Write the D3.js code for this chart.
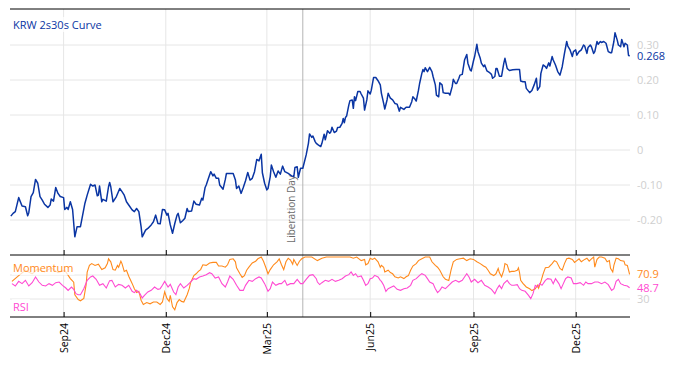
<!DOCTYPE html>
<html><head><meta charset="utf-8">
<script src="https://cdn.jsdelivr.net/npm/d3@7"></script>
<style>body{margin:0;background:#fff;} svg{display:block;font-family:"Open Sans",sans-serif;}</style>
</head><body><svg id="c" width="674" height="366"></svg>
<script>
// ---- data (days counted from startDate) ----
const startDate = "2024-07-15";
const endDate = "2026-01-18";
const curveDays = [1,3,5,8,11,14,16,17,19,21,23,25,27,29,31,34,36,37,39,41,43,45,48,49,51,52,54,56,58,60,63,67,69,72,74,76,78,79,80,82,83,86,88,89,90,92,94,95,98,100,102,104,106,109,111,113,115,117,118,121,123,126,128,130,132,134,
136,138,140,141,143,145,147,149,150,152,154,156,158,159,162,164,166,169,171,172,174,175,177,179,181,182,184,186,187,190,192,193,196,199,201,202,204,206,208,210,212,214,216,218,220,222,224,225,227,229,230,232,233,235,237,239,241,243,245,248,251,253,254,256,257,259,261,
264,266,267,269,270,272,273,275,277,278,280,281,283,285,286,287,289,291,292,294,296,297,298,299,300,302,303,305,306,307,308,310,312,313,315,316,318,319,321,322,324,326,328,330,331,333,334,336,337,339,341,343,345,347,348,351,353,356,358,359,361,362,364,365,367,368,369,370,372,374,376,377,379,380,382,383,385,386,388,391,392,394,395,397,398,400,401,403,
405,407,408,410,411,413,414,416,417,419,420,422,423,425,427,429,430,432,433,434,436,438,440,441,443,445,448,451,454,455,457,459,460,463,465,467,469,470,472,473,475,477,478,480,481,483,484,486,488,490,492,494,496,497,499,501,502,504,505,507,509,511,512,514,515,517,518,520,521,523,524,526,527,529,531,533,535,536,538,539,541,542,544,545,547,548,550,551,552];
const curveValues = [-0.189,-0.181,-0.176,-0.136,-0.16,-0.162,-0.188,-0.179,-0.133,-0.122,-0.084,-0.095,-0.133,-0.143,-0.155,-0.164,-0.157,-0.14,-0.146,-0.107,-0.124,-0.133,-0.136,-0.17,-0.164,-0.17,-0.148,-0.17,-0.248,-0.219,-0.219,-0.152,-0.129,-0.098,-0.103,-0.1,-0.131,-0.129,-0.103,-0.148,-0.141,-0.146,-0.105,-0.093,-0.105,-0.148,-0.138,-0.133,-0.11,-0.119,-0.129,-0.148,-0.157,-0.171,-0.176,-0.167,-0.176,-0.219,-0.248,-0.229,-0.224,-0.214,-0.205,-0.186,-0.21,-0.211,
-0.17,-0.171,-0.186,-0.181,-0.214,-0.238,-0.21,-0.186,-0.181,-0.208,-0.202,-0.195,-0.167,-0.176,-0.174,-0.146,-0.155,-0.157,-0.138,-0.143,-0.107,-0.1,-0.081,-0.062,-0.074,-0.069,-0.081,-0.081,-0.1,-0.112,-0.084,-0.067,-0.067,-0.067,-0.086,-0.11,-0.103,-0.124,-0.107,-0.088,-0.064,-0.086,-0.081,-0.062,-0.027,-0.031,-0.012,-0.065,-0.095,-0.114,-0.11,-0.076,-0.043,-0.062,-0.078,-0.06,-0.069,-0.046,-0.062,-0.067,-0.074,-0.076,-0.05,-0.048,-0.078,-0.052,-0.052,
-0.014,0.019,0.046,0.036,0.04,0.024,0.019,0.014,0.01,0.019,0.045,0.029,0.055,0.048,0.052,0.065,0.05,0.054,0.064,0.065,0.076,0.09,0.078,0.093,0.097,0.129,0.141,0.143,0.119,0.152,0.141,0.167,0.167,0.16,0.148,0.114,0.143,0.169,0.16,0.171,0.207,0.207,0.198,0.186,0.162,0.133,0.117,0.143,0.162,0.148,0.143,0.133,0.131,0.111,0.122,0.116,0.122,0.122,0.138,0.152,0.145,0.14,0.171,0.19,0.219,0.23,0.224,0.235,0.224,0.236,0.224,0.21,0.186,0.157,0.152,0.192,0.186,0.164,0.162,0.162,0.157,0.181,0.202,0.19,0.19,0.205,0.214,0.216,
0.257,0.273,0.248,0.229,0.226,0.255,0.267,0.302,0.281,0.262,0.248,0.238,0.243,0.226,0.222,0.216,0.205,0.21,0.233,0.233,0.211,0.211,0.248,0.262,0.233,0.227,0.229,0.23,0.23,0.197,0.195,0.195,0.176,0.164,0.17,0.186,0.205,0.171,0.181,0.219,0.243,0.238,0.233,0.249,0.24,0.267,0.257,0.243,0.224,0.214,0.238,0.276,0.31,0.297,0.286,0.267,0.281,0.286,0.271,0.281,0.286,0.3,0.297,0.276,0.293,0.3,0.295,0.276,0.281,0.31,0.302,0.31,0.307,0.31,0.305,0.281,0.278,0.278,0.31,0.335,0.314,0.3,0.295,0.316,0.295,0.305,0.3,0.271,0.268];

const momentumDays = [2,8,14,20,25,31,37,43,49,54,57,58,61,63,66,68,69,71,73,76,79,82,85,87,88,90,92,94,96,97,99,100,102,104,106,109,111,113,115,117,119,122,125,128,131,134,136,138,140,142,143,145,147,149,151,153,155,158,160,161,164,166,168,170,172,175,178,181,184,186,189,192,194,196,199,201,202,205,207,209,211,213,216,219,221,224,226,228,230,232,235,238,240,242,244,246,248,250,252,253,256,258,260,263,267,269,274,278,282,287,291,296,300,303,306,309,313,316,317,319,321,323,325,328,330,331,333,334,337,339,341,343,346,348,351,353,355,357,359,362,364,367,370,374,376,379,381,383,386,388,391,393,395,398,401,404,407,410,413,416,419,422,424,426,428,431,433,435,436,438,440,441,443,445,447,449,452,453,454,455,457,460,463,465,468,470,471,473,475,477,480,483,485,487,490,492,494,496,498,501,503,505,507,509,512,514,516,518,520,521,523,525,527,530,532,534,535,537,538,540,542,544,547,548,550,552];
const momentumValues = [59.4,69,78,72,80,75,82,74,78,64,58,37,29,27,31,53,75,86,89,86,88,79,82,89,97,92,79,78,86,83,93,89,76,78,68,56,47,41,43,28,21,24,22,25,25,21,25,42,31,26,36,17,12,24,29,26,25,37,48,57,69,72,76,79,87,86,90,91,91,85,85,83,87,96,97,92,82,72,66,69,78,83,90,93,97,100,93,83,72,79,87,92,97,87,79,92,98,95,88,96,86,93,97,100,100,100,94,98,100,100,100,100,100,100,98,100,94,96,87,89,98,96,98,92,83,86,83,75,78,74,72,67,65,67,64,67,69,78,85,89,94,97,100,100,92,86,83,78,67,63,61,78,92,96,97,98,94,97,96,92,89,85,83,78,72,69,72,81,74,67,78,89,87,75,76,76,78,82,74,61,56,50,47,44,47,53,48,59,72,82,83,89,94,92,81,78,89,97,98,96,91,94,97,92,96,98,93,97,100,83,96,100,100,98,92,94,81,75,86,98,97,94,93,87,86,70.9];

const rsiDays = [2,5,8,11,14,17,20,23,26,29,32,35,38,41,44,47,50,52,55,57,59,61,63,66,69,72,74,77,80,83,86,89,91,94,97,100,103,106,109,111,113,116,118,120,123,126,129,132,134,136,138,141,143,146,148,150,152,155,158,161,164,166,169,172,175,178,180,183,186,189,192,194,196,199,202,205,208,210,213,216,219,222,224,227,230,232,234,237,240,242,245,247,250,253,256,259,261,264,267,270,273,274,276,278,281,284,287,290,293,296,299,302,304,306,308,310,313,315,317,319,321,323,325,328,330,331,333,335,337,340,342,345,348,351,354,357,359,362,365,367,370,372,374,377,379,381,383,385,388,391,394,397,400,403,405,407,409,411,414,417,420,423,426,429,432,434,436,438,440,443,445,447,449,452,454,456,459,462,464,466,468,470,472,474,477,479,482,484,486,489,491,493,495,497,500,502,505,508,511,513,515,518,521,524,527,530,533,536,538,540,542,544,547,550,552];
const rsiValues = [55.6,51.7,59.4,55.6,61.1,51.7,57.2,66.7,58.3,52.8,51.7,55.6,52.8,57.2,58.3,52.8,48.3,44.4,50,46.1,38.9,37.2,37.2,47.2,61.1,66.7,68.3,62.8,52.8,55.6,48.3,60.6,61.1,50,54.4,52.8,48.3,52.8,42.8,40.6,44.4,38.9,31.7,36.1,41.7,44.4,50,46.1,47.2,52.8,59.4,50,54.4,41.7,37.2,50,55.6,48.3,52.8,58.3,63.9,62.8,66.7,68.3,70.6,73.9,72.2,65,66.7,55.6,50,58.3,68.3,62.8,52.8,44.4,44.4,52.8,61.1,59.4,63.9,66.7,65,55.6,42.8,47.2,58.3,52.8,55.6,55.6,61.1,52.8,55.6,55.6,62.8,55.6,55.6,62.8,69.4,70.6,63.9,58.3,54,57.2,61.1,59.4,62.8,59.4,61.1,63.9,68.3,70.6,75,69.4,72.2,66.7,68.3,61.1,52.8,55.6,63.9,65,69.4,66.7,61.1,59.4,52.8,42.8,47.2,50,51.7,46.1,44.4,47.2,48.3,52.8,61.1,63.9,69.4,72.2,69.4,63.9,58.3,55.6,47.2,40.6,44.4,50,47.2,52.8,58.3,61.1,58.3,61.1,66.7,72.2,66.7,58.3,62.8,57.2,61.1,52.8,50,46.1,38.9,47.2,52.8,47.2,55.6,61.1,55.6,52.8,52.8,53.9,47.2,44.4,42.8,36.1,30.6,38.9,52.8,50,55.6,52.8,61.1,63.9,62.8,55.6,63.9,55.6,47.2,55.6,63.9,66.7,65,55.6,55.6,57.2,52.8,58.3,55.6,55.6,58.3,58.3,55.6,58.3,53.9,44.4,47.2,59.4,62.8,55.6,52.8,51.7,48.7];

const tickLabels = ["Sep24","Dec24","Mar25","Jun25","Sep25","Dec25"];
const tickDates = ["2024-09-01","2024-12-01","2025-03-01","2025-06-01","2025-09-01","2025-12-01"];
const yTicks = [-0.2,-0.1,0,0.1,0.2,0.3];
const yTickLabels = ["-0.20","-0.10","0","0.10","0.20","0.30"];
const oscGrid = [30,70];
const oscTickLabels = ["30"];
const eventDate = "2025-04-02";
const eventLabel = "Liberation Day";
const titleText = "KRW 2s30s Curve";

// ---- drawing ----
const parse = d3.timeParse("%Y-%m-%d");
const t0 = parse(startDate);
const toDate = d => d3.timeDay.offset(t0, d);
const curve = curveDays.map((d,i)=>({date:toDate(d), v:curveValues[i]}));
const mom = momentumDays.map((d,i)=>({date:toDate(d), v:momentumValues[i]}));
const rsi = rsiDays.map((d,i)=>({date:toDate(d), v:rsiValues[i]}));

const L = 10, R = 630;
const topY0 = 9, topY1 = 255, botY0 = 255, botY1 = 317;
const x = d3.scaleTime().domain([t0, parse(endDate)]).range([9.7, 629.6]);
const yTop = d3.scaleLinear().domain([-0.3, 0.4]).range([255, 10]);
const yBot = d3.scaleLinear().domain([0, 100]).range([317, 257]);

const svg = d3.select("#c");
const blue = "#0a35a3", orange = "#ff8a1c", pink = "#ff4ad2", grid = "#e6e6e6", lab = "#cfcfcf";

// vertical gridlines
svg.append("g").selectAll("line").data(tickDates).join("line")
  .attr("x1", d=>x(parse(d))).attr("x2", d=>x(parse(d)))
  .attr("y1", topY0).attr("y2", botY1).attr("stroke", grid).attr("stroke-width",1);
// horizontal gridlines top
svg.append("g").selectAll("line").data(yTicks).join("line")
  .attr("x1", L).attr("x2", R).attr("y1", d=>yTop(d)).attr("y2", d=>yTop(d))
  .attr("stroke", grid).attr("stroke-width",1);
// horizontal gridlines bottom
svg.append("g").selectAll("line").data(oscGrid).join("line")
  .attr("x1", L).attr("x2", R).attr("y1", d=>yBot(d)).attr("y2", d=>yBot(d))
  .attr("stroke", grid).attr("stroke-width",1);

// event line
const ex = x(parse(eventDate));
svg.append("line").attr("x1",ex).attr("x2",ex).attr("y1",topY0).attr("y2",botY1)
  .attr("stroke","#b4b4b4").attr("stroke-width",1);
svg.append("text").attr("transform",`translate(${ex-8},243) rotate(-90)`)
  .attr("text-anchor","start").attr("font-size",10).attr("fill","#6b6b6b").text(eventLabel);

// y labels top
svg.append("g").selectAll("text").data(yTicks).join("text")
  .attr("x", 637).attr("y", d=>yTop(d)).attr("dy","0.35em")
  .attr("font-size",11).attr("fill",lab).text((d,i)=>yTickLabels[i]);
svg.append("g").selectAll("text").data(oscTickLabels).join("text")
  .attr("x", 637).attr("y", d=>yBot(+d)).attr("dy","0.35em")
  .attr("font-size",11).attr("fill",lab).text(d=>d);

// lines
const line = (ys)=>d3.line().x(d=>x(d.date)).y(d=>ys(d.v));
svg.append("path").datum(mom).attr("d", line(yBot)).attr("fill","none")
  .attr("stroke",orange).attr("stroke-width",1.1);
svg.append("path").datum(rsi).attr("d", line(yBot)).attr("fill","none")
  .attr("stroke",pink).attr("stroke-width",1.1);
svg.append("path").datum(curve).attr("d", line(yTop)).attr("fill","none")
  .attr("stroke",blue).attr("stroke-width",1.5).attr("stroke-linejoin","round");

// frame / axes
svg.append("line").attr("x1",L).attr("x2",R).attr("y1",topY0).attr("y2",topY0).attr("stroke","#000");
const axMid = d3.axisBottom(x).tickValues(tickDates.map(parse)).tickSizeInner(-5).tickSizeOuter(0).tickFormat("");
svg.append("g").attr("transform",`translate(0,${botY0})`).call(axMid)
  .call(g=>g.select(".domain").attr("d",`M${L},0H${R}`));
const axBot = d3.axisBottom(x).tickValues(tickDates.map(parse)).tickSizeInner(-5).tickSizeOuter(0)
  .tickFormat((d,i)=>tickLabels[i]);
svg.append("g").attr("transform",`translate(0,${botY1})`).call(axBot)
  .call(g=>g.select(".domain").attr("d",`M${L},0H${R}`))
  .call(g=>g.selectAll("text").attr("transform","rotate(-90)").attr("text-anchor","end")
    .attr("x",-6).attr("y",0).attr("dy","0.35em").attr("font-size",10.5).attr("fill","#000")
    .attr("font-family",'"Open Sans",sans-serif'));

// end value labels
const last = a=>a[a.length-1];
svg.append("text").attr("x",637).attr("y",yTop(last(curve).v)).attr("dy","0.35em")
  .attr("font-size",11).attr("fill",blue).text(d3.format(".3f")(last(curve).v));
svg.append("text").attr("x",637).attr("y",yBot(last(mom).v)).attr("dy","0.35em")
  .attr("font-size",11).attr("fill",orange).text(d3.format(".1f")(last(mom).v));
svg.append("text").attr("x",637).attr("y",yBot(last(rsi).v)).attr("dy","0.35em")
  .attr("font-size",11).attr("fill",pink).text(d3.format(".1f")(last(rsi).v));

// titles
function labelWithBg(txt, xx, yy, color){
  const g = svg.append("g");
  const t = g.append("text").attr("x",xx).attr("y",yy).attr("font-size",11).attr("fill",color).text(txt);
  const bb = t.node().getBBox();
  g.insert("rect","text").attr("x",bb.x-1).attr("y",bb.y).attr("width",bb.width+2).attr("height",bb.height)
    .attr("fill","#fff").attr("opacity",0.75);
}
labelWithBg(titleText, 13, 29, blue);
labelWithBg("Momentum", 13, 272, orange);
labelWithBg("RSI", 13, 311, pink);
</script></body></html>
